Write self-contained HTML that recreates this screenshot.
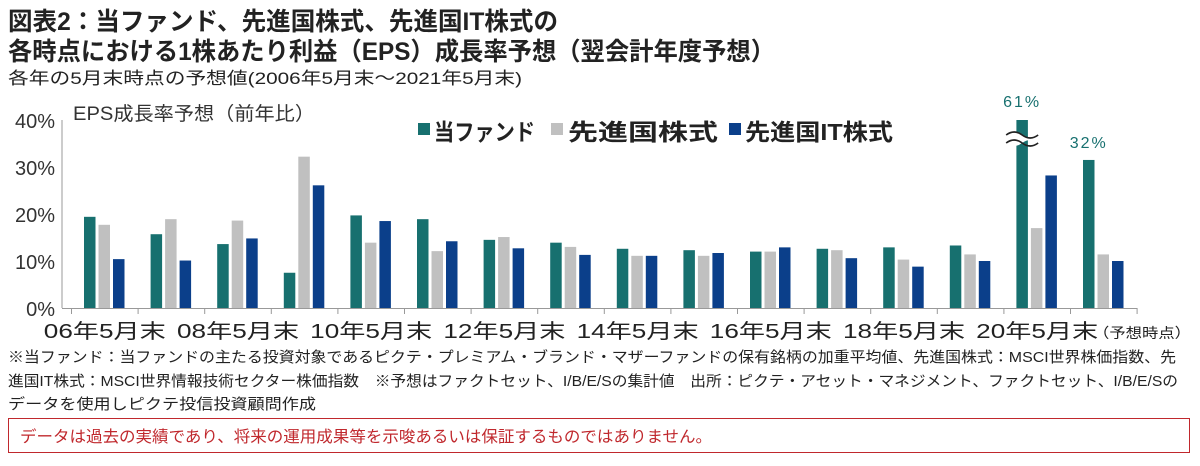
<!DOCTYPE html>
<html><head><meta charset="utf-8"><style>
html,body{margin:0;padding:0;background:#fff;}
svg{display:block;font-family:"Liberation Sans","Noto Sans CJK JP",sans-serif;}
</style></head><body>
<svg id="c" width="1200" height="466" viewBox="0 0 1200 466">
<text x="8" y="30" font-size="25" font-weight="bold" fill="#222" textLength="550" lengthAdjust="spacingAndGlyphs">図表2：当ファンド、先進国株式、先進国IT株式の</text>
<text x="8" y="60" font-size="25" font-weight="bold" fill="#222" textLength="767" lengthAdjust="spacingAndGlyphs">各時点における1株あたり利益（EPS）成長率予想（翌会計年度予想）</text>
<text x="8" y="84" font-size="17" fill="#222" textLength="514" lengthAdjust="spacingAndGlyphs">各年の5月末時点の予想値(2006年5月末～2021年5月末)</text>
<text x="73" y="120" font-size="19" fill="#333" textLength="242" lengthAdjust="spacingAndGlyphs">EPS成長率予想（前年比）</text>
<g>
<rect x="418" y="123" width="12" height="12" fill="#17706f"/>
<text x="434" y="140" font-size="23" font-weight="bold" fill="#222" textLength="101" lengthAdjust="spacingAndGlyphs">当ファンド</text>
<rect x="551" y="123" width="12" height="12" fill="#c0c0c0"/>
<text x="568" y="140" font-size="23" font-weight="bold" fill="#222" textLength="150" lengthAdjust="spacingAndGlyphs">先進国株式</text>
<rect x="729" y="123" width="12" height="12" fill="#0b3f8a"/>
<text x="745" y="140" font-size="23" font-weight="bold" fill="#222" textLength="148" lengthAdjust="spacingAndGlyphs">先進国IT株式</text>
</g>
<g id="plot"></g>
<text x="8" y="362" font-size="15" fill="#222" textLength="1168" lengthAdjust="spacingAndGlyphs">※当ファンド：当ファンドの主たる投資対象であるピクテ・プレミアム・ブランド・マザーファンドの保有銘柄の加重平均値、先進国株式：MSCI世界株価指数、先</text>
<text x="8" y="386" font-size="15" fill="#222" textLength="1170" lengthAdjust="spacingAndGlyphs">進国IT株式：MSCI世界情報技術セクター株価指数　※予想はファクトセット、I/B/E/Sの集計値　出所：ピクテ・アセット・マネジメント、ファクトセット、I/B/E/Sの</text>
<text x="8" y="409" font-size="15" fill="#222" textLength="308" lengthAdjust="spacingAndGlyphs">データを使用しピクテ投信投資顧問作成</text>
<rect x="8.5" y="418.5" width="1181" height="34" fill="none" stroke="#c0282d" stroke-width="1"/>
<text x="20" y="442" font-size="16" fill="#c0282d" textLength="692" lengthAdjust="spacingAndGlyphs">データは過去の実績であり、将来の運用成果等を示唆あるいは保証するものではありません。</text>
</svg>
<script>
const years = [2006,2007,2008,2009,2010,2011,2012,2013,2014,2015,2016,2017,2018,2019,2020,2021];
const fundValues = [19.4,15.7,13.6,7.5,19.7,18.9,14.5,13.9,12.6,12.3,12.0,12.6,12.9,13.3,61,31.5];
const developedValues = [17.7,18.9,18.6,32.2,13.9,12.1,15.1,13.0,11.1,11.1,12.0,12.3,10.3,11.4,17.0,11.4];
const itValues = [10.4,10.1,14.8,26.1,18.5,14.2,12.7,11.3,11.1,11.7,12.9,10.6,8.8,10.0,28.2,10.0];
const yTicks = [0,10,20,30,40];
const xLabels = ["06年5月末","08年5月末","10年5月末","12年5月末","14年5月末","16年5月末","18年5月末","20年5月末"];
const calloutLabels = ["61%","32%"];

const NS = "http://www.w3.org/2000/svg";
const plot = document.getElementById("plot");
const X0 = 71.5, STEP = 66.6, Y0 = 308, PX = 4.7, YMAX = 40;
const xBand = i => X0 + i * STEP;
const yScale = v => Y0 - Math.min(v, YMAX) * PX;
function mk(tag, attrs){const e=document.createElementNS(NS,tag);for(const k in attrs)e.setAttribute(k,attrs[k]);plot.appendChild(e);return e;}

// axes
let yl = mk("line",{x1:62,y1:yScale(40),x2:62,y2:Y0,stroke:"#999","stroke-width":1});


let xl = mk("line",{x1:62,y1:Y0+0.5,x2:xBand(years.length),y2:Y0+0.5,stroke:"#999","stroke-width":1});


for(let i=0;i<=years.length;i++){
  const t = mk("line",{x1:xBand(i),y1:Y0,x2:xBand(i),y2:Y0+6,stroke:"#999","stroke-width":1});
  
  
}
yTicks.forEach(v=>{
  const t = mk("text",{x:55,y:yScale(v)+8,"font-size":20,fill:"#333","text-anchor":"end"});
  t.textContent = v+"%";
  
  
});
xLabels.forEach((lab,j)=>{
  const i=j*2;
  const t = mk("text",{x:xBand(i)+STEP/2,y:338,"font-size":20,fill:"#222","text-anchor":"middle",textLength:122,lengthAdjust:"spacingAndGlyphs"});
  t.textContent = lab;
  
  
});
const pt = mk("text",{x:1093,y:338,"font-size":14,fill:"#222",textLength:98,lengthAdjust:"spacingAndGlyphs"});
pt.textContent="（予想時点）";



// bars
const series = [[fundValues,"#17706f","bar-fund"],[developedValues,"#c0c0c0","bar-developed"],[itValues,"#0b3f8a","bar-developed-it"]];
years.forEach((yr,i)=>{
  series.forEach((s,k)=>{
    const v=s[0][i];
    const x = xBand(i)+12.5+k*14.5;
    const r = mk("rect",{x:x,y:yScale(v),width:11.5,height:Y0-yScale(v),fill:s[1]});
    
    
  });
});
// break mark on 2020 fund bar
const bi = years.indexOf(2020);
const bx = xBand(bi)+12.5+5.75;
const by = yScale(YMAX)+19;
const brk = mk("path",{d:`M${bx-16},${by-4} q8,-6 16,0 t16,0 v8 q-8,-6 -16,0 t-16,0 z`,fill:"#fff",stroke:"none"});


[by-4,by+4].forEach(yy=>{
  const w = mk("path",{d:`M${bx-16},${yy} q8,-6 16,0 t16,0`,fill:"none",stroke:"#222","stroke-width":1.6});
  
  
});
// callouts
[[bi, 0, 107],[years.indexOf(2021), 1, yScale(fundValues[15])-12]].forEach(c=>{
  const t = mk("text",{x:xBand(c[0])+12.5+5.75,y:c[2],"font-size":16,fill:"#17706f","text-anchor":"middle","letter-spacing":2});
  t.textContent = calloutLabels[c[1]];
  
  
});
</script>
</body></html>
